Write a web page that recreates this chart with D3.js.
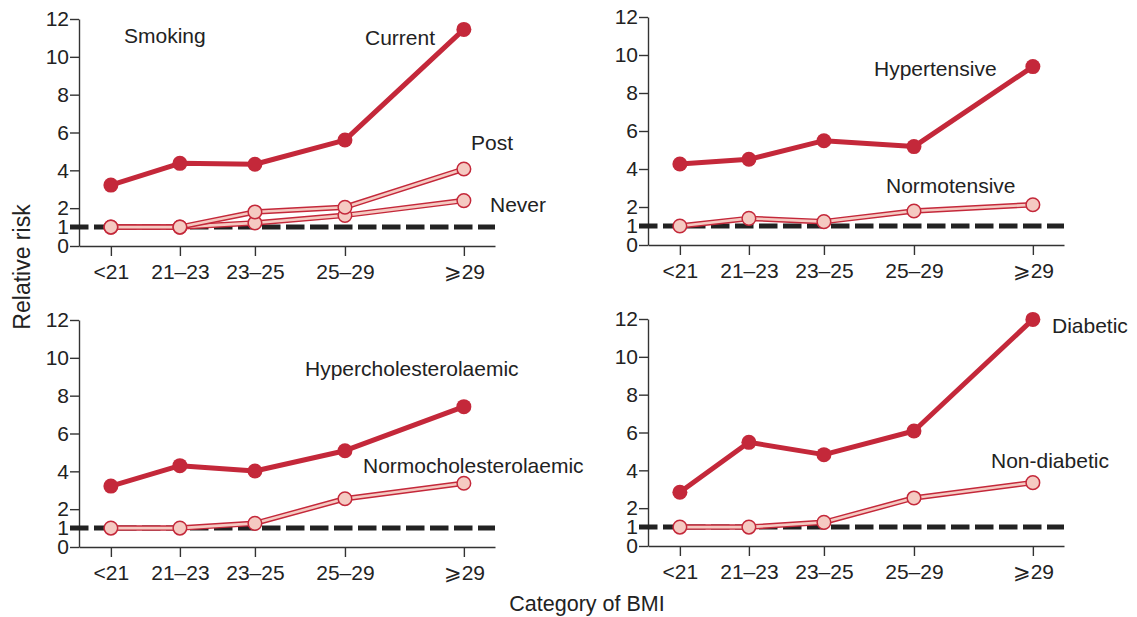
<!DOCTYPE html>
<html>
<head>
<meta charset="utf-8">
<script src="https://cdn.jsdelivr.net/npm/d3@7"></script>
<style>
  html, body { margin: 0; padding: 0; background: #fff; }
  svg { display: block; font-family: "Liberation Sans", Arial, Helvetica, sans-serif; }
</style>
</head>
<body>
<svg id="chart" width="1137" height="617"></svg>
<script>
// ---- data ----
const categories = ["<21", "21\u201323", "23\u201325", "25\u201329", "\u2A7E29"];
const bmiPos = [20.16, 22.0, 24.0, 26.4, 29.57];   // approximate category medians (x placement)
const yTicks = [0, 1, 2, 4, 6, 8, 10, 12];

const smokingCurrent = [3.22, 4.37, 4.32, 5.6, 11.45];
const smokingPost    = [1.0, 1.0, 1.8, 2.05, 4.07];
const smokingNever   = [1.0, 1.0, 1.22, 1.62, 2.4];

const hypertensive   = [4.26, 4.51, 5.49, 5.18, 9.39];
const normotensive   = [1.0, 1.4, 1.23, 1.79, 2.12];

const hyperchol      = [3.22, 4.30, 4.02, 5.09, 7.42];
const normochol      = [1.0, 1.0, 1.25, 2.55, 3.37];

const diabetic       = [2.84, 5.48, 4.83, 6.08, 11.98];
const nonDiabetic    = [1.0, 1.0, 1.25, 2.54, 3.35];

// ---- layout ----
const RED = "#c4283a", PINK = "#f5cac2", AX = "#333";
const panels = [
  { x0: 79,  x1: 495,  yb: 246, yt: 19,
    series: [{v: smokingNever, f: false}, {v: smokingPost, f: false}, {v: smokingCurrent, f: true}],
    labels: [{t: "Smoking", x: 124, y: 43}, {t: "Current", x: 365, y: 45},
             {t: "Post", x: 471, y: 150}, {t: "Never", x: 490, y: 212}] },
  { x0: 648, x1: 1064, yb: 245, yt: 17,
    series: [{v: normotensive, f: false}, {v: hypertensive, f: true}],
    labels: [{t: "Hypertensive", x: 874, y: 76}, {t: "Normotensive", x: 886, y: 193}] },
  { x0: 79,  x1: 495,  yb: 547, yt: 320,
    series: [{v: normochol, f: false}, {v: hyperchol, f: true}],
    labels: [{t: "Hypercholesterolaemic", x: 305, y: 376}, {t: "Normocholesterolaemic", x: 363, y: 473}] },
  { x0: 648, x1: 1064, yb: 546, yt: 319,
    series: [{v: nonDiabetic, f: false}, {v: diabetic, f: true}],
    labels: [{t: "Diabetic", x: 1052, y: 333}, {t: "Non-diabetic", x: 991, y: 468}] }
];

const svg = d3.select("#chart");
const FS = 21;

panels.forEach(p => {
  const x = d3.scaleLinear().domain([19.31, 30.4]).range([p.x0, p.x1]);
  const y = d3.scaleLinear().domain([0, 12]).range([p.yb, p.yt]);
  const g = svg.append("g");

  // y axis
  const ya = g.append("g").attr("transform", `translate(${p.x0},0)`)
    .call(d3.axisLeft(y).tickValues(yTicks).tickSize(9).tickSizeOuter(0).tickPadding(1));
  // x axis
  const xa = g.append("g").attr("transform", `translate(0,${p.yb})`)
    .call(d3.axisBottom(x).tickValues(bmiPos).tickFormat((d, i) => categories[i])
      .tickSize(10).tickSizeOuter(0).tickPadding(8));
  [ya, xa].forEach(a => {
    a.selectAll("path.domain").attr("stroke", AX).attr("stroke-width", 1.4);
    a.selectAll(".tick line").attr("stroke", AX).attr("stroke-width", 1.4);
    a.selectAll("text").attr("fill", "#222").style("font-size", FS + "px")
      .style("font-family", "'Liberation Sans', Arial, sans-serif");
  });

  // reference line at RR = 1
  g.append("line")
    .attr("x1", p.x0 - 9).attr("x2", p.x1)
    .attr("y1", y(1)).attr("y2", y(1))
    .attr("stroke", "#222").attr("stroke-width", 5)
    .attr("stroke-dasharray", "18.5,5.5");

  const line = d3.line().x((d, i) => x(bmiPos[i])).y(d => y(d));

  p.series.forEach(s => {
    if (s.f) {
      g.append("path").attr("d", line(s.v)).attr("fill", "none")
        .attr("stroke", RED).attr("stroke-width", 5).attr("stroke-linejoin", "round");
      g.selectAll(null).data(s.v).enter().append("circle")
        .attr("cx", (d, i) => x(bmiPos[i])).attr("cy", d => y(d))
        .attr("r", 7.5).attr("fill", RED);
    } else {
      g.append("path").attr("d", line(s.v)).attr("fill", "none")
        .attr("stroke", RED).attr("stroke-width", 5.5).attr("stroke-linejoin", "round");
      g.append("path").attr("d", line(s.v)).attr("fill", "none")
        .attr("stroke", PINK).attr("stroke-width", 2.6).attr("stroke-linejoin", "round");
    }
  });
  // open circles on top
  p.series.filter(s => !s.f).forEach(s => {
    g.selectAll(null).data(s.v).enter().append("circle")
      .attr("cx", (d, i) => x(bmiPos[i])).attr("cy", d => y(d))
      .attr("r", 6.8).attr("fill", PINK).attr("stroke", RED).attr("stroke-width", 1.5);
  });

  g.selectAll(null).data(p.labels).enter().append("text")
    .attr("x", d => d.x).attr("y", d => d.y)
    .attr("fill", "#222").style("font-size", FS + "px")
    .text(d => d.t);
});

// axis titles
svg.append("text").attr("x", 587).attr("y", 611).attr("text-anchor", "middle")
  .attr("fill", "#222").style("font-size", "21.5px").text("Category of BMI");
svg.append("text").attr("transform", "translate(30,267) rotate(-90)").attr("text-anchor", "middle")
  .attr("fill", "#222").style("font-size", "23px").text("Relative risk");
</script>
</body>
</html>
